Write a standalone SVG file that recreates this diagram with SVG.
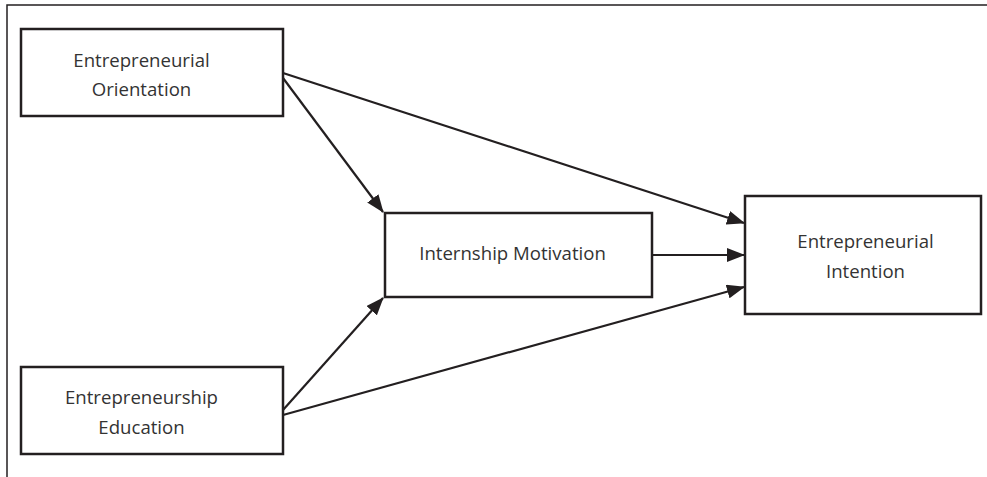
<svg xmlns="http://www.w3.org/2000/svg" width="987" height="477" viewBox="0 0 987 477">
<defs>
<style>
.box{fill:#fff;stroke:#231f20;stroke-width:2.5}
.lbl{font-family:"Open Sans","Noto Sans",sans-serif;font-size:18.6px;fill:#333;text-anchor:middle}
.edge{stroke:#231f20;stroke-width:2.2;fill:none;marker-end:url(#ah)}
.frame{stroke:#231f20;stroke-width:1.5;fill:none}
</style>
<marker id="ah" markerUnits="userSpaceOnUse" markerWidth="18" markerHeight="14" viewBox="0 0 18 14" refX="17" refY="7" orient="auto">
<path d="M0,0 L18,7 L0,14 Z" fill="#231f20"/>
</marker>
</defs>
<rect width="987" height="477" fill="#fff"/>
<path class="frame" d="M7,477 V5 H987"/>
<g id="connectors">
<line class="edge" x1="283" y1="73" x2="744" y2="223"/>
<line class="edge" x1="283" y1="78" x2="383" y2="212"/>
<line class="edge" x1="652" y1="255" x2="744" y2="255"/>
<line class="edge" x1="283" y1="410" x2="383" y2="298"/>
<line class="edge" x1="283" y1="415" x2="744" y2="287"/>
</g>
<g id="orientation">
<rect class="box" x="21" y="29" width="262" height="87"/>
<text class="lbl" x="141.5" y="67">Entrepreneurial</text>
<text class="lbl" x="141.5" y="96">Orientation</text>
</g>
<g id="motivation">
<rect class="box" x="385" y="213" width="267" height="84"/>
<text class="lbl" x="512.5" y="260">Internship Motivation</text>
</g>
<g id="education">
<rect class="box" x="21" y="367" width="262" height="87"/>
<text class="lbl" x="141.5" y="404">Entrepreneurship</text>
<text class="lbl" x="141.5" y="434">Education</text>
</g>
<g id="intention">
<rect class="box" x="745" y="196" width="236" height="118"/>
<text class="lbl" x="865.5" y="248">Entrepreneurial</text>
<text class="lbl" x="865.5" y="278">Intention</text>
</g>
</svg>
